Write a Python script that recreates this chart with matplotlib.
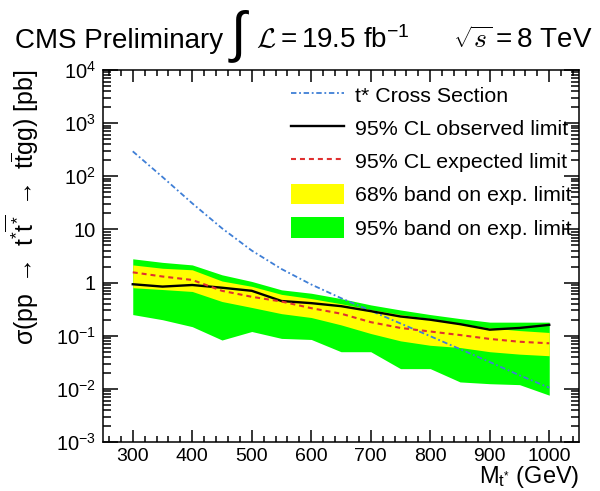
import math
import matplotlib
matplotlib.use('Agg')
import matplotlib.pyplot as plt
from matplotlib.patches import Patch
from matplotlib.lines import Line2D
from matplotlib.ticker import MultipleLocator, LogLocator, FuncFormatter, NullFormatter

plt.rcParams['font.family'] = ['Liberation Sans', 'DejaVu Sans']
plt.rcParams['mathtext.fontset'] = 'cm'
plt.rcParams['mathtext.default'] = 'regular'

# t* mass points (GeV)
mass = [300, 350, 400, 450, 500, 550, 600, 650, 700, 750, 800, 850, 900, 950, 1000]

# limits on sigma (pb)
observed = [0.93, 0.84, 0.90, 0.80, 0.70, 0.45, 0.41, 0.36, 0.29, 0.23, 0.20, 0.165, 0.13, 0.14, 0.16]
expected = [1.56, 1.30, 1.12, 0.70, 0.54, 0.44, 0.33, 0.26, 0.18, 0.14, 0.12, 0.103, 0.087, 0.077, 0.072]
yellow_hi = [2.15, 1.86, 1.74, 1.07, 0.85, 0.60, 0.50, 0.40, 0.31, 0.25, 0.21, 0.17, 0.14, 0.125, 0.115]
yellow_lo = [0.80, 0.74, 0.68, 0.44, 0.34, 0.26, 0.22, 0.16, 0.11, 0.08, 0.066, 0.06, 0.05, 0.045, 0.042]
green_hi = [2.8, 2.4, 2.15, 1.4, 1.05, 0.73, 0.63, 0.50, 0.38, 0.305, 0.25, 0.21, 0.18, 0.18, 0.18]
green_lo = [0.25, 0.20, 0.148, 0.083, 0.12, 0.089, 0.085, 0.05, 0.05, 0.024, 0.024, 0.0135, 0.0125, 0.012, 0.0076]

# theory cross section (pb)
xsec = [295, 97, 31, 10.5, 4.0, 1.8, 0.92, 0.51, 0.295, 0.17, 0.098, 0.056, 0.032, 0.018, 0.0105]

W, H = 600, 491
fig = plt.figure(figsize=(W / 100, H / 100), dpi=100)
ax = fig.add_axes([103 / W, 1 - 442 / H, 476 / W, 372 / H])
ax.set_yscale('log')

xs_style = dict(color='#3f7fd6', ls=(0, (3, 1.5, 1, 1.5)), lw=1.3)
obs_style = dict(color='black', lw=1.7)
exp_style = dict(color='#e03030', ls=(0, (2.4, 1.9)), lw=1.5)

ax.fill_between(mass, green_lo, green_hi, color='#00ff00', lw=0)
ax.fill_between(mass, yellow_lo, yellow_hi, color='#ffff00', lw=0)
ax.plot(mass, xsec, **xs_style)
ax.plot(mass, observed, **obs_style)
ax.plot(mass, expected, **exp_style)

ax.set_xlim(250, 1050)
ax.set_ylim(1e-3, 1e4)
ax.xaxis.set_major_locator(MultipleLocator(100))
ax.xaxis.set_minor_locator(MultipleLocator(20))
ax.yaxis.set_major_locator(LogLocator(base=10, numticks=20))
ax.yaxis.set_minor_locator(LogLocator(base=10, subs=range(2, 10), numticks=20))
ax.yaxis.set_minor_formatter(NullFormatter())


def ylab(v, pos):
    e = int(round(math.log10(v)))
    if e == 0:
        return '1'
    if e == 1:
        return '10'
    return '10$^{%d}$' % e


ax.yaxis.set_major_formatter(FuncFormatter(ylab))

ax.tick_params(which='both', direction='in', top=True, right=True, width=1.1)
ax.tick_params(axis='y', which='major', length=11, labelsize=14.5, pad=5)
ax.tick_params(axis='y', which='minor', length=5.8)
ax.tick_params(axis='x', which='major', length=8.6, labelsize=14, pad=4)
ax.tick_params(axis='x', which='minor', length=4.3)
for s in ax.spines.values():
    s.set_linewidth(1.1)

ax.set_xlabel(r'M$_{t^{*}}$ (GeV)', fontsize=17, loc='right')
ax.xaxis.set_label_coords(1.0, -0.059)
ax.set_ylabel(r'σ(pp $\rightarrow$ t$^{*}\overline{t^{*}}$ $\rightarrow$ t$\overline{t}$gg) [pb]',
              fontsize=18, loc='top')
ax.yaxis.set_label_coords(-0.13, 1.0)

handles = [
    Line2D([], [], **xs_style),
    Line2D([], [], **obs_style),
    Line2D([], [], **exp_style),
    Patch(facecolor='#ffff00', edgecolor='none'),
    Patch(facecolor='#00ff00', edgecolor='none'),
]
labels = ['t* Cross Section', '95% CL observed limit', '95% CL expected limit',
          '68% band on exp. limit', '95% band on exp. limit']
ax.legend(handles, labels, loc='upper left', bbox_to_anchor=(291 / W, 1 - 84 / H),
          bbox_transform=fig.transFigure, frameon=False, fontsize=15.4,
          borderpad=0, borderaxespad=0, handlelength=2.5, handleheight=1.1,
          handletextpad=0.47, labelspacing=0.55)

# header
fig.text(15 / W, 1 - 48 / H, 'CMS Preliminary', fontsize=20, va='baseline')
fig.text(228 / W, 1 - 37 / H, r'$\int$', fontsize=40, va='center')
fig.text(256 / W, 1 - 48 / H, r'$\mathcal{L} = 19.5\ $fb$^{-1}$', fontsize=20, va='baseline')
fig.text(453 / W, 1 - 48 / H, r'$\sqrt{\mathit{s}} = 8\ $TeV', fontsize=20, va='baseline')

fig.savefig('out.png', dpi=100)
